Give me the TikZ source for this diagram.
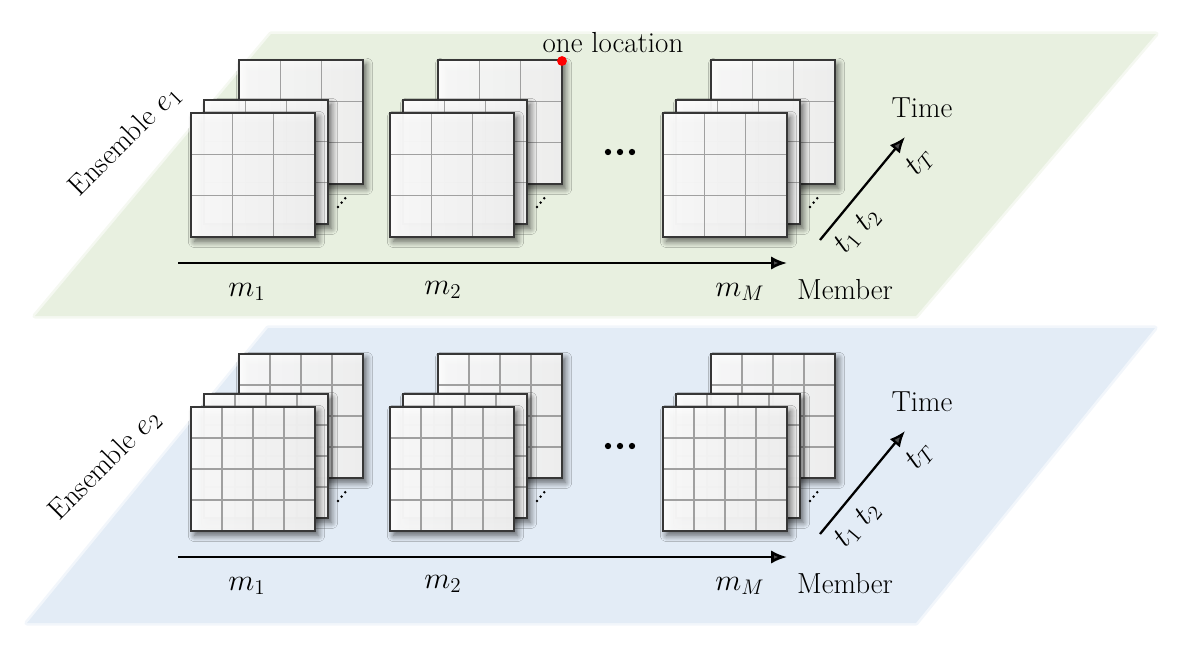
\documentclass[tikz,border=0pt]{standalone}
\usepackage{amsmath}
\usetikzlibrary{arrows.meta,shadows.blur}
\tikzset{>={Latex[length=9pt,width=7.5pt]}}
\definecolor{planegreen}{RGB}{232,240,224}
\definecolor{planeblue}{RGB}{227,236,246}
\definecolor{gridgray}{RGB}{160,160,160}
\definecolor{framegray}{RGB}{55,55,55}
\tikzset{
  plane/.style={fill=#1, draw=#1, draw opacity=0.45, line width=3pt, line join=round},
  gridsheet/.style={left color=white, right color=black!4, fill opacity=0.95,
    blur shadow={shadow xshift=2pt, shadow yshift=-2.5pt,
      shadow blur radius=3.5pt, shadow blur steps=10, shadow opacity=60}},
  gridline/.style={draw=gridgray, line width=0.8pt},
  sheetframe/.style={draw=framegray, line width=1pt},
  axis/.style={->, line width=1.5pt},
  lbl/.style={font=\fontsize{16.5}{20}\selectfont, inner sep=0pt},
}
% one sheet of the stack: top left corner (#1,#2), #3 cells per side
\def\gridsheet#1#2#3{
  \path[gridsheet] ({#1},{#2}) rectangle ++(124,124);
  \pgfmathsetmacro\cw{124/#3}
  \foreach \c in {2,...,#3}
    \draw[gridline] ({#1+(\c-1)*\cw},{#2}) -- ++(0,124)
                    ({#1},{#2+(\c-1)*\cw}) -- ++(124,0);
  \draw[sheetframe] ({#1},{#2}) rectangle ++(124,124);
}

\begin{document}
\begin{tikzpicture}[x=0.02cm,y=-0.02cm]
  \useasboundingbox (0,0) rectangle (1190,653);

  % planes
  \path[plane=planegreen] (271,34) -- (1156,34) -- (916,316) -- (35,316) -- cycle;
  \path[plane=planeblue] (268,328) -- (1155,328) -- (916,623) -- (27,623) -- cycle;

  % one ensemble per plane
  \foreach \e/\dy/\n/\ex/\ey in {1/0/3/125/141, 2/294/4/105/171}{
  \begin{scope}[shift={(0,\dy)}]
    % stacks of time steps for members m_1, m_2, m_M
    \foreach \sx in {0,199,472}{
      \gridsheet{239+\sx}{60}{\n}
      \gridsheet{204+\sx}{100}{\n}
      \gridsheet{191+\sx}{113}{\n}
      \foreach \d in {0,1,2}
        \fill ({338+\sx+3.6*\d},{207-4.4*\d}) circle[radius=0.8pt];
    }
    \foreach \d in {608,620,632}
      \fill (\d,152) circle[radius=1.8pt];

    % member axis
    \coordinate (mbeg\e) at (178,263);
    \coordinate (mend\e) at (787,263);
    \draw[axis] (mbeg\e) -- (mend\e);
    \node[lbl] (mone\e) at (247,292) {$m_1$};
    \node[lbl] (mtwo\e) at (443,290) {$m_2$};
    \node[lbl] (mlast\e) at (740,292) {$m_M$};
    \node[lbl] (member\e) at (845,290) {Member};

    % time axis
    \coordinate (tbeg\e) at (820,240);
    \coordinate (tend\e) at (905,137);
    \draw[axis, line width=1.3pt] (tbeg\e) -- (tend\e);
    \node[lbl] (time\e) at (922,108) {Time};
    \node[lbl, rotate=50] (tone\e) at (847,242) {$t_1$};
    \node[lbl, rotate=50] (ttwo\e) at (868,220) {$t_2$};
    \node[lbl, rotate=50] (tlast\e) at (920,162) {$t_T$};

    % ensemble name
    \node[lbl, rotate=45] (ens\e) at (\ex,\ey) {Ensemble $e_\e$};
  \end{scope}
  }

  % marked location
  \node[lbl] (oneloc) at (613,43) {one location};
  \node[circle, fill=red, inner sep=0pt, minimum size=5.6pt] (loc) at (562,61) {};

\end{tikzpicture}
\end{document}
